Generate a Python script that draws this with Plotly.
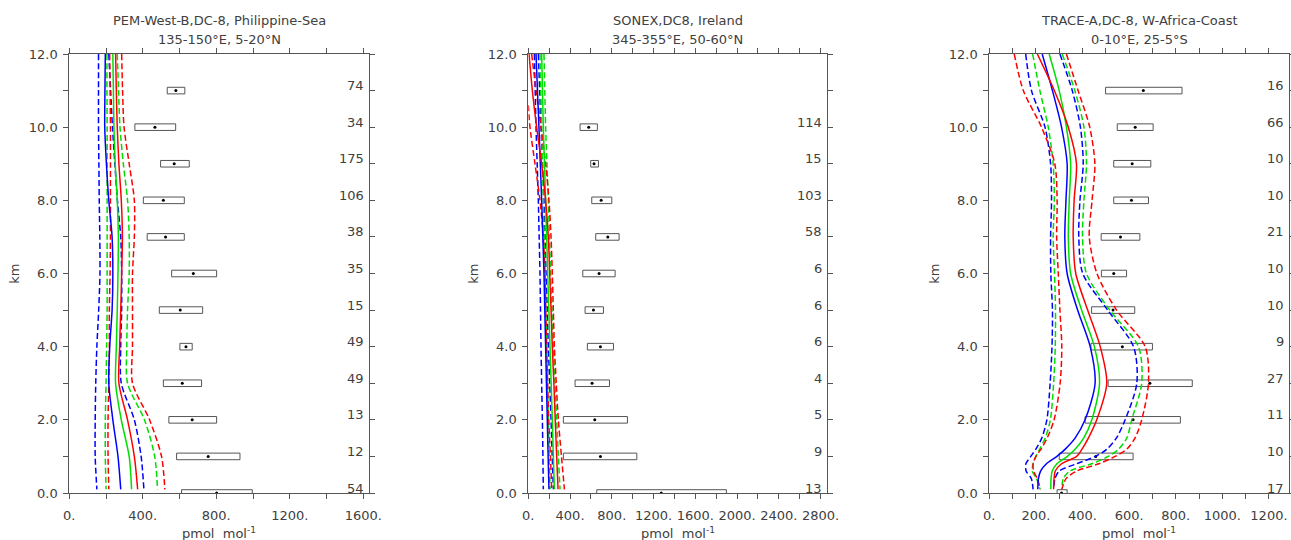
import plotly.graph_objects as go

# ---------------- Panel A : PEM-West-B ----------------
A_TITLE = ["PEM-West-B,DC-8, Philippine-Sea", "135-150°E, 5-20°N"]
A_Z = [12, 11, 10, 9, 8, 7, 6, 5, 4, 3, 2, 1, 0.1]
A_BLUE = [196, 194, 193, 202, 215, 233, 237, 233, 220, 215, 237, 265, 280]
A_BLUE_LO = [159, 159, 159, 161, 163, 166, 167, 160, 150, 144, 141, 141, 150]
A_BLUE_HI = [215, 225, 235, 248, 262, 280, 285, 285, 280, 283, 354, 391, 406]
A_GREEN = [237, 240, 243, 250, 261, 267, 265, 261, 256, 252, 283, 326, 339]
A_GREEN_LO = [205, 205, 206, 206, 206, 206, 206, 206, 203, 200, 196, 196, 200]
A_GREEN_HI = [261, 268, 276, 294, 317, 326, 326, 317, 313, 317, 409, 465, 480]
A_RED = [252, 256, 261, 270, 283, 289, 285, 280, 274, 270, 317, 354, 372]
A_RED_LO = [220, 222, 224, 224, 224, 224, 222, 218, 218, 215, 211, 211, 215]
A_RED_HI = [285, 290, 298, 326, 354, 354, 344, 344, 344, 344, 437, 502, 520]
A_BOX_KM = [11, 10, 9, 8, 7, 6, 5, 4, 3, 2, 1, 0]
A_BOX_LO = [533, 357, 497, 403, 424, 557, 490, 602, 512, 542, 584, 611]
A_BOX_HI = [629, 579, 653, 626, 626, 802, 726, 669, 720, 802, 929, 996]
A_BOX_MID = [580, 466, 571, 512, 524, 675, 604, 635, 615, 669, 756, 802]
A_COUNT = ["74", "34", "175", "106", "38", "35", "15", "49", "49", "13", "12", "54"]
A_XTICKS = [0, 200, 400, 600, 800, 1000, 1200, 1400, 1600]
A_XLABELS = ["0.", "", "400.", "", "800.", "", "1200.", "", "1600."]

# ---------------- Panel B : SONEX ----------------
B_TITLE = ["SONEX,DC8, Ireland", "345-355°E, 50-60°N"]
B_Z = [12, 11, 10, 9, 8, 7, 6, 5, 4, 3, 2, 1, 0.1]
B_BLUE = [74, 88, 102, 115, 128, 139, 150, 158, 166, 174, 182, 190, 198]
B_BLUE_LO = [58, 66, 74, 85, 96, 104, 112, 117, 122, 128, 135, 140, 144]
B_BLUE_HI = [96, 109, 122, 136, 150, 160, 170, 181, 192, 205, 218, 229, 240]
B_GREEN = [128, 136, 144, 155, 166, 176, 186, 197, 208, 219, 230, 240, 250]
B_GREEN_LO = [112, 120, 128, 136, 144, 152, 160, 168, 176, 184, 192, 200, 208]
B_GREEN_HI = [150, 158, 166, 179, 192, 203, 214, 227, 240, 256, 272, 288, 304]
B_RED = [7, 39, 80, 128, 166, 192, 205, 218, 230, 245, 258, 272, 285]
B_RED_LO_Z = [10.6, 10, 9, 8, 7, 6, 5, 4, 3, 2, 1, 0.1]
B_RED_LO = [0, 16, 64, 112, 144, 160, 168, 176, 186, 196, 212, 224]
B_RED_HI = [32, 75, 122, 166, 198, 218, 230, 240, 250, 268, 288, 318, 346]
B_BOX_KM = [10, 9, 8, 7, 6, 5, 4, 3, 2, 1, 0]
B_BOX_LO = [496, 598, 608, 646, 522, 544, 566, 448, 336, 336, 656]
B_BOX_HI = [662, 672, 800, 870, 832, 720, 816, 778, 950, 1040, 1898]
B_BOX_MID = [579, 630, 698, 762, 678, 624, 691, 611, 637, 691, 1274]
B_COUNT = ["114", "15", "103", "58", "6", "6", "6", "4", "5", "9", "13"]
B_XTICKS = list(range(0, 2801, 200))
B_XLABELS = ["0.", "", "400.", "", "800.", "", "1200.", "", "1600.", "", "2000.", "", "2400.", "", "2800."]

# ---------------- Panel C : TRACE-A ----------------
C_TITLE = ["TRACE-A,DC-8, W-Africa-Coast", "0-10°E, 25-5°S"]
C_Z = [12, 11, 10, 9, 8, 7, 6, 5, 4, 3, 2, 1.5, 1.2, 1.0, 0.8, 0.6, 0.4, 0.1]
C_BLUE = [227, 271, 310, 334, 329, 324, 334, 379, 433, 454, 411, 368, 326, 290, 245, 220, 211, 208]
C_BLUE_LO = [156, 181, 239, 263, 267, 263, 264, 271, 269, 261, 247, 225, 200, 178, 157, 158, 180, 188]
C_BLUE_HI = [303, 356, 391, 403, 389, 384, 401, 508, 619, 633, 583, 545, 505, 455, 375, 300, 282, 276]
C_GREEN = [257, 300, 331, 349, 343, 339, 349, 396, 451, 473, 440, 405, 369, 335, 290, 270, 265, 264]
C_GREEN_LO = [186, 217, 253, 274, 279, 274, 280, 284, 283, 276, 262, 240, 216, 200, 188, 184, 202, 218]
C_GREEN_HI = [313, 367, 406, 417, 406, 400, 417, 517, 640, 654, 611, 590, 555, 510, 440, 345, 318, 311]
C_RED = [206, 279, 339, 374, 364, 360, 371, 422, 476, 504, 461, 425, 398, 375, 310, 283, 278, 276]
C_RED_LO = [107, 146, 224, 281, 291, 289, 296, 303, 311, 304, 278, 248, 222, 200, 188, 190, 205, 220]
C_RED_HI = [331, 381, 431, 453, 441, 429, 462, 546, 669, 683, 654, 625, 590, 540, 470, 375, 330, 311]
C_BOX_KM = [11, 10, 9, 8, 7, 6, 5, 4, 3, 2, 1, 0]
C_BOX_LO = [499, 549, 534, 534, 480, 481, 439, 436, 510, 411, 300, 291]
C_BOX_HI = [827, 703, 693, 683, 646, 589, 624, 700, 871, 820, 617, 334]
C_BOX_MID = [661, 626, 613, 610, 563, 534, 531, 571, 689, 617, 457, 310]
C_COUNT = ["16", "66", "10", "10", "21", "10", "10", "9", "27", "11", "10", "17"]
C_XTICKS = list(range(0, 1201, 100))
C_XLABELS = ["0.", "", "200.", "", "400.", "", "600.", "", "800.", "", "1000.", "", "1200."]

Y_TICKS = list(range(0, 13))
Y_LABELS = ["0.0", "", "2.0", "", "4.0", "", "6.0", "", "8.0", "", "10.0", "", "12.0"]
X_UNIT = "pmol  mol<sup>-1</sup>"

# ---------------- styling ----------------
W, H = 1291, 540
FONT = "DejaVu Sans"
TXT = "#404040"
AXC = "#555555"
BLUE, GREEN, RED = "#0000ff", "#00dd00", "#ff0000"
DASH = "6px,3px"
BOX_HALF = 0.09

fig = go.Figure()
annotations = []

panels = [
    dict(title=A_TITLE,
         series=[(A_BLUE_LO, BLUE, DASH, A_Z), (A_BLUE_HI, BLUE, DASH, A_Z),
                 (A_GREEN_LO, GREEN, DASH, A_Z), (A_GREEN_HI, GREEN, DASH, A_Z),
                 (A_RED_LO, RED, DASH, A_Z), (A_RED_HI, RED, DASH, A_Z),
                 (A_BLUE, BLUE, "solid", A_Z), (A_GREEN, GREEN, "solid", A_Z),
                 (A_RED, RED, "solid", A_Z)],
         bkm=A_BOX_KM, blo=A_BOX_LO, bhi=A_BOX_HI, bmid=A_BOX_MID, cnt=A_COUNT,
         xt=A_XTICKS, xl=A_XLABELS, xrange=[0, 1633], dom=[69.3, 369.3]),
    dict(title=B_TITLE,
         series=[(B_BLUE_LO, BLUE, DASH, B_Z), (B_BLUE_HI, BLUE, DASH, B_Z),
                 (B_GREEN_LO, GREEN, DASH, B_Z), (B_GREEN_HI, GREEN, DASH, B_Z),
                 (B_RED_LO, RED, DASH, B_RED_LO_Z), (B_RED_HI, RED, DASH, B_Z),
                 (B_BLUE, BLUE, "solid", B_Z), (B_GREEN, GREEN, "solid", B_Z),
                 (B_RED, RED, "solid", B_Z)],
         bkm=B_BOX_KM, blo=B_BOX_LO, bhi=B_BOX_HI, bmid=B_BOX_MID, cnt=B_COUNT,
         xt=B_XTICKS, xl=B_XLABELS, xrange=[0, 2862], dom=[528.3, 827.0]),
    dict(title=C_TITLE,
         series=[(C_BLUE_LO, BLUE, DASH, C_Z), (C_BLUE_HI, BLUE, DASH, C_Z),
                 (C_GREEN_LO, GREEN, DASH, C_Z), (C_GREEN_HI, GREEN, DASH, C_Z),
                 (C_RED_LO, RED, DASH, C_Z), (C_RED_HI, RED, DASH, C_Z),
                 (C_BLUE, BLUE, "solid", C_Z), (C_GREEN, GREEN, "solid", C_Z),
                 (C_RED, RED, "solid", C_Z)],
         bkm=C_BOX_KM, blo=C_BOX_LO, bhi=C_BOX_HI, bmid=C_BOX_MID, cnt=C_COUNT,
         xt=C_XTICKS, xl=C_XLABELS, xrange=[0, 1286], dom=[989.3, 1289.0]),
]

layout_axes = {}
for i, p in enumerate(panels, start=1):
    sfx = "" if i == 1 else str(i)
    xa, ya = "x" + sfx, "y" + sfx

    bx, by = [], []
    for k, lo, hi in zip(p["bkm"], p["blo"], p["bhi"]):
        bx += [lo, hi, hi, lo, lo, None]
        by += [k - BOX_HALF, k - BOX_HALF, k + BOX_HALF, k + BOX_HALF, k - BOX_HALF, None]
    fig.add_trace(go.Scatter(x=bx, y=by, mode="lines", xaxis=xa, yaxis=ya,
                             line=dict(color="#555555", width=1), showlegend=False,
                             hoverinfo="skip"))
    fig.add_trace(go.Scatter(x=p["bmid"], y=p["bkm"], mode="markers", xaxis=xa, yaxis=ya,
                             marker=dict(color="black", size=3), showlegend=False,
                             cliponaxis=True))

    for vals, col, dash, zz in p["series"]:
        fig.add_trace(go.Scatter(x=vals, y=zz, mode="lines", xaxis=xa, yaxis=ya,
                                 line=dict(color=col, width=1.5, dash=dash,
                                           shape="spline", smoothing=0.8),
                                 showlegend=False))

    d0, d1 = p["dom"][0] / W, p["dom"][1] / W
    common = dict(showgrid=False, zeroline=False, showline=True, linecolor=AXC,
                  linewidth=1, mirror="ticks", ticks="outside", ticklen=5,
                  tickcolor=AXC, tickwidth=1, automargin=False,
                  tickfont=dict(family=FONT, size=13, color=TXT))
    layout_axes["xaxis" + sfx] = dict(common, domain=[d0, d1], range=p["xrange"],
                                      anchor=ya, tickmode="array", tickvals=p["xt"],
                                      ticktext=p["xl"], ticklabelstandoff=5)
    layout_axes["yaxis" + sfx] = dict(common, domain=[0, 1], range=[0, 12], anchor=xa,
                                      tickmode="array", tickvals=Y_TICKS,
                                      ticktext=Y_LABELS, ticklabelstandoff=3)

    xd = "x%s domain" % sfx
    yd = "y%s domain" % sfx
    annotations.append(dict(text=p["title"][0], xref=xd, yref=yd, x=0.5, y=1,
                            yshift=34, showarrow=False, yanchor="middle",
                            font=dict(family=FONT, size=13, color=TXT)))
    annotations.append(dict(text=p["title"][1], xref=xd, yref=yd, x=0.5, y=1,
                            yshift=15, showarrow=False, yanchor="middle",
                            font=dict(family=FONT, size=13, color=TXT)))
    annotations.append(dict(text=X_UNIT, xref=xd, yref=yd, x=0.5, y=0, yshift=-40,
                            showarrow=False, yanchor="middle",
                            font=dict(family=FONT, size=13, color=TXT)))
    annotations.append(dict(text="km", xref=xd, yref=yd, x=0, y=0.5, xshift=-55,
                            showarrow=False, textangle=-90, xanchor="center",
                            font=dict(family=FONT, size=13, color=TXT)))
    for k, c in zip(p["bkm"], p["cnt"]):
        annotations.append(dict(text=c, xref=xd, yref=ya, x=1, y=k, xshift=-3,
                                yshift=5, showarrow=False, xanchor="right",
                                yanchor="middle",
                                font=dict(family=FONT, size=13, color=TXT)))

fig.update_layout(width=W, height=H, autosize=False,
                  margin=dict(l=0, r=0, t=54, b=47, pad=0),
                  paper_bgcolor="white", plot_bgcolor="white",
                  annotations=annotations, showlegend=False, **layout_axes)

fig.write_html("out.html", config={"displayModeBar": False, "responsive": False},
               post_script="document.body.style.margin='0';document.body.style.overflow='hidden';")
